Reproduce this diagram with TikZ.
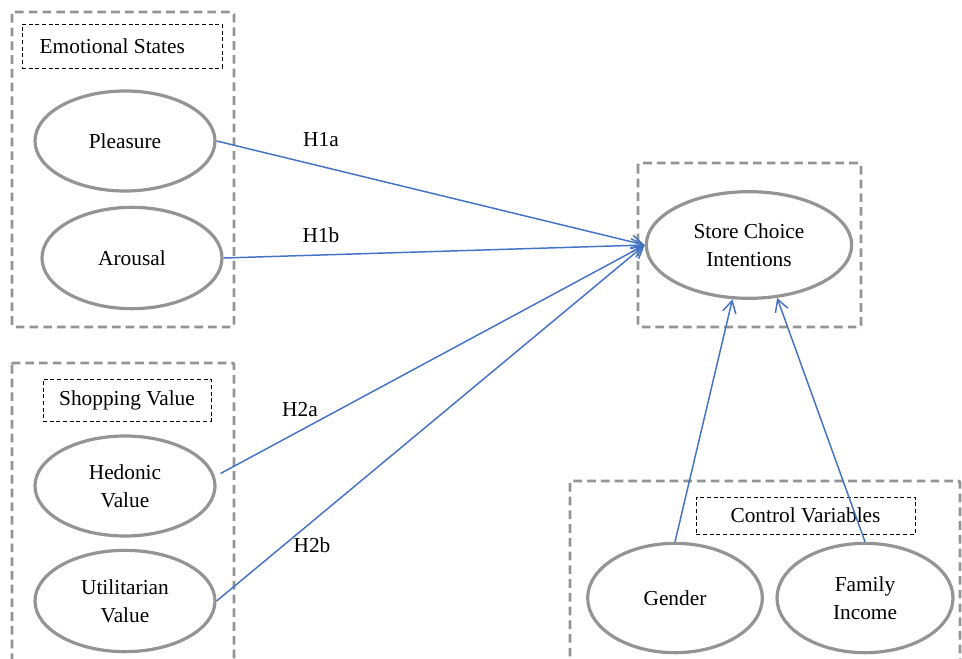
\documentclass[tikz,border=0pt]{standalone}
\usepackage{fontspec}
\setmainfont{Liberation Serif}
\usetikzlibrary{shapes.geometric,arrows.meta}

\begin{document}
\begin{tikzpicture}[x=0.75pt,y=-0.75pt]
    \tikzstyle{every node}+=[font=\fontsize{16}{21}\selectfont, align=center]
    \tikzstyle{group}=[draw=black!42, line width=2.2pt, dash pattern=on 6.5pt off 3.8pt, rounded corners=1.5pt]
    \tikzstyle{title}=[draw=black, densely dashed, line width=0.5pt, inner sep=0pt]
    \tikzstyle{construct}=[ellipse, draw=black!42, line width=2.4pt, inner sep=0pt]
    \tikzstyle{hyp}=[draw={rgb,255:red,68;green,114;blue,196}, line width=1.1pt, -{Straight Barb[length=9pt, width=10pt]}]
    \useasboundingbox (0,0) rectangle (962,659);
    \clip (0,0) rectangle (962,659);
    \draw [group] (12,12) rectangle (234,327);
    \draw [group] (12,363) rectangle (234,690);
    \draw [group] (638,163) rectangle (861,327);
    \draw [group] (570,481) rectangle (960,690);
    \node [title, minimum width=150pt, minimum height=33pt] (emotitle) at (122,46) {};
    \node [anchor=west] (emotext) at (35,46) {Emotional States};
    \node [title, minimum width=126pt, minimum height=31.5pt] (shoptitle) at (127,400) {Shopping Value};
    \node [title, minimum width=164pt, minimum height=28pt] (ctrltitle) at (805.5,515.5) {Control Variables};
    \node [construct, minimum width=135pt, minimum height=75pt] (pleasure) at (125,141) {\raisebox{-3pt}{Pleasure}};
    \node [construct, minimum width=135pt, minimum height=76pt] (arousal) at (132,258) {Arousal};
    \node [construct, minimum width=135pt, minimum height=75pt] (hedonic) at (125,486) {Hedonic\\Value};
    \node [construct, minimum width=135pt, minimum height=76pt] (utilitarian) at (125,601) {Utilitarian\\Value};
    \node [construct, minimum width=154pt, minimum height=80pt] (store) at (749,245) {Store Choice\\Intentions};
    \node [construct, minimum width=131pt, minimum height=82pt] (gender) at (675,598) {Gender};
    \node [construct, minimum width=132pt, minimum height=82pt] (income) at (865,598) {Family\\Income};
    \draw [hyp] (pleasure.east) -- (store.west);
    \draw [hyp] (arousal.east) -- (store.west);
    \draw [hyp] ([xshift=5pt]hedonic.8) -- (store.west);
    \draw [hyp] (utilitarian.east) -- (store.west);
    \draw [hyp] (gender.north) -- (store.253);
    \draw [hyp] (income.north) -- (store.298);
    \node (h1a) at (321,140) {H1a};
    \node (h1b) at (321,235) {H1b};
    \node (h2a) at (300,410) {H2a};
    \node (h2b) at (312,545) {H2b};
\end{tikzpicture}
\end{document}
